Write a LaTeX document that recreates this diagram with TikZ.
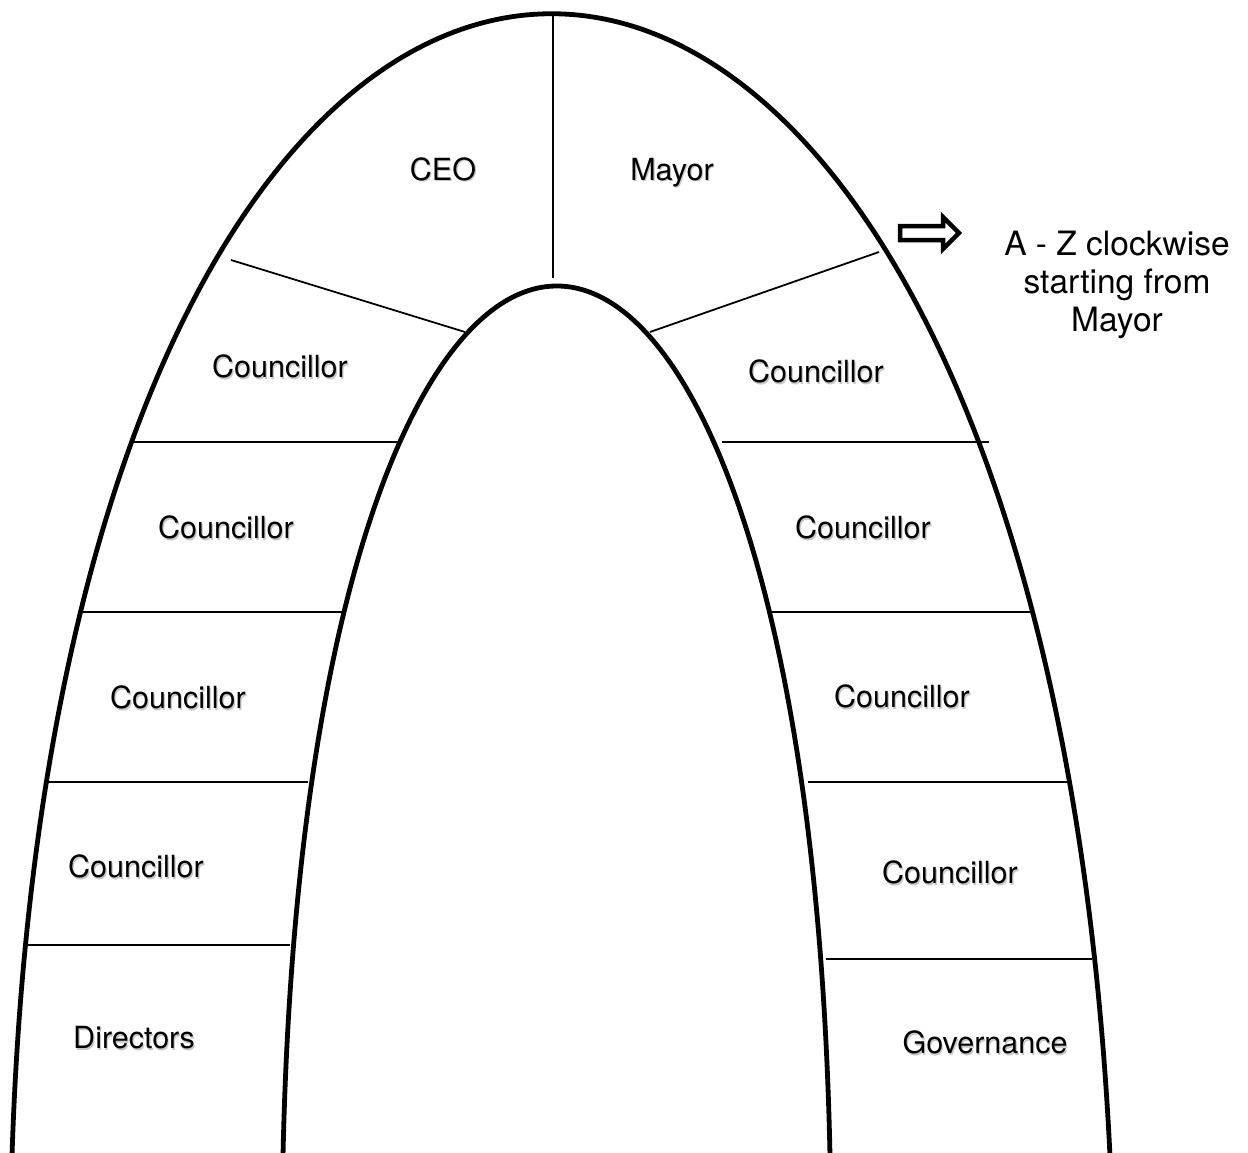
\documentclass[tikz,border=0pt]{standalone}
\usepackage{fontspec}
\setmainfont{TeX Gyre Heros}
\tikzset{
  arch/.style={line width=4.8pt, line cap=butt},
  divider/.style={line width=1.8pt},
  lbl/.style={inner sep=0pt, anchor=base, font=\fontsize{30.5}{36}\selectfont},
  lblshadow/.style={lbl, text=black!22},
  notetext/.style={inner sep=0pt, align=center, font=\fontsize{33.5}{38}\selectfont},
  blockarrow/.style={line width=4.5pt, fill=white, line join=miter},
}
\newcommand{\archlabel}[4]{%
  \node[lblshadow] (#1s) at (#2+1.2,#3+2) {#4};
  \node[lbl] (#1) at (#2,#3) {#4};
}
\begin{document}
\begin{tikzpicture}[x=1pt,y=-1pt]
\useasboundingbox[fill=white] (0,0) rectangle (1248,1153);

% outer arch
\coordinate (oL) at (12,1156);
\coordinate (oR) at (1110,1156);
\draw[arch] (oL) .. controls (61,-367) and (1036,-367) .. (oR);

% inner arch
\coordinate (iL) at (283,1156);
\coordinate (iR) at (830,1156);
\draw[arch] (iL) .. controls (308,-4) and (806,-4) .. (iR);

% dividers
\coordinate (v1) at (553,15);  \coordinate (v2) at (553,278);
\coordinate (dl1) at (231,260); \coordinate (dl2) at (465,332);
\coordinate (dr1) at (650,332); \coordinate (dr2) at (879,252);
\draw[divider] (v1) -- (v2);
\draw[divider] (dl1) -- (dl2);
\draw[divider] (dr1) -- (dr2);
\coordinate (hl1a) at (133,442); \coordinate (hl1b) at (398,442);
\coordinate (hl2a) at (80,612);  \coordinate (hl2b) at (345,612);
\coordinate (hl3a) at (44,782);  \coordinate (hl3b) at (308,782);
\coordinate (hl4a) at (24,945);  \coordinate (hl4b) at (290,945);
\coordinate (hr1a) at (722,442); \coordinate (hr1b) at (989,442);
\coordinate (hr2a) at (772,612); \coordinate (hr2b) at (1033,612);
\coordinate (hr3a) at (808,782); \coordinate (hr3b) at (1071,782);
\coordinate (hr4a) at (826,959); \coordinate (hr4b) at (1092,959);
\foreach \n in {hl1,hl2,hl3,hl4,hr1,hr2,hr3,hr4}
  \draw[divider] (\n a) -- (\n b);

% labels
\archlabel{ceo}{443}{180}{CEO}
\archlabel{mayor}{672}{180}{Mayor}
\archlabel{cl1}{280}{377}{Councillor}
\archlabel{cl2}{226}{538}{Councillor}
\archlabel{cl3}{178}{708}{Councillor}
\archlabel{cl4}{136}{877}{Councillor}
\archlabel{dir}{134}{1048}{Directors}
\archlabel{cr1}{816}{382}{Councillor}
\archlabel{cr2}{863}{538}{Councillor}
\archlabel{cr3}{902}{707}{Councillor}
\archlabel{cr4}{950}{883}{Councillor}
\archlabel{gov}{985}{1053}{Governance}

% block arrow
\draw[blockarrow] (900,226) -- (943,226) -- (943,217) -- (959,233)
  -- (943,249) -- (943,240) -- (900,240) -- cycle;

% note
\node[notetext] (note) at (1117,285) {A - Z clockwise\\starting from\\Mayor};
\end{tikzpicture}
\end{document}
